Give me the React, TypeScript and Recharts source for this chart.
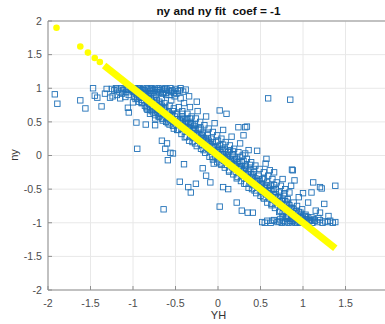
import React from "react";
import { CartesianGrid, ReferenceLine, Scatter, ScatterChart, XAxis, YAxis } from "recharts";

type Pt = [number, number];

const COEF = -1;
const X_TICKS = [-2, -1.5, -1, -0.5, 0, 0.5, 1, 1.5];
const Y_TICKS = [-2, -1.5, -1, -0.5, 0, 0.5, 1, 1.5, 2];

// ny saturates at +1 on the left
const plateau: Pt[] = [
  [-1.25, 0.99], [-1.22, 0.97], [-1.2, 1.0], [-1.18, 0.98], [-1.16, 0.95], [-1.14, 1.0], [-1.12, 0.97],
  [-1.1, 0.99], [-1.08, 0.94], [-1.06, 1.0], [-1.04, 0.97], [-1.02, 0.99], [-1.0, 0.95], [-0.98, 1.0],
  [-0.96, 0.98], [-0.94, 0.96], [-0.92, 1.0], [-0.9, 0.97], [-0.88, 0.99], [-0.86, 0.95], [-0.84, 1.0],
  [-0.82, 0.98], [-0.8, 0.96], [-0.78, 1.0], [-0.76, 0.97], [-0.74, 0.99], [-0.72, 0.94], [-0.7, 1.0],
  [-0.68, 0.97], [-0.66, 0.99], [-0.64, 0.95], [-0.62, 1.0], [-0.6, 0.98], [-0.58, 0.96], [-0.56, 1.0],
  [-0.54, 0.97], [-0.52, 0.93], [-0.5, 0.99], [-0.47, 0.96], [-0.44, 1.0], [-0.41, 0.95], [-0.38, 0.98],
  [-0.97, 0.93], [-0.89, 0.92], [-0.81, 0.93], [-0.73, 0.91], [-0.65, 0.92], [-0.57, 0.9], [-1.13, 0.92],
  [-1.05, 0.9], [-1.07, 0.98], [-0.99, 0.97], [-0.93, 0.99], [-0.87, 0.97], [-0.79, 0.99], [-0.71, 0.97],
  [-0.63, 0.98], [-0.55, 0.95], [-0.49, 0.92], [-0.45, 0.97], [-0.77, 0.93], [-0.69, 0.94], [-0.61, 0.93],
];

const leftScatter: Pt[] = [
  [-1.92, 0.91], [-1.89, 0.77], [-1.62, 0.82], [-1.56, 0.7], [-1.47, 1.0], [-1.45, 0.89], [-1.42, 0.86],
  [-1.37, 0.73], [-1.33, 0.92], [-1.31, 0.99], [-1.27, 0.86], [-1.24, 0.88], [-1.19, 0.9], [-1.15, 0.85],
  [-1.09, 0.87], [-1.06, 0.71], [-1.05, 0.64], [-1.0, 0.79], [-0.84, 0.7], [-0.8, 0.62], [-0.74, 0.55],
  [-0.65, 0.52], [-0.66, 0.22], [-0.6, 0.18],
];

// wider spread around the fit
const band: Pt[] = [
  [-0.99, 0.88], [-0.97, 0.84], [-0.95, 0.9], [-0.93, 0.8], [-0.92, 0.87], [-0.96, 0.49], [-0.85, 0.46], [-0.95, 0.1],
  [-0.9, 0.83], [-0.89, 0.78], [-0.87, 0.86], [-0.86, 0.74], [-0.84, 0.82], [-0.83, 0.68], [-0.82, 0.88], [-0.81, 0.77],
  [-0.8, 0.72], [-0.79, 0.84], [-0.78, 0.66], [-0.77, 0.79], [-0.76, 0.7], [-0.75, 0.88], [-0.74, 0.6], [-0.73, 0.75],
  [-0.72, 0.82], [-0.71, 0.64], [-0.74, 0.45],
  [-0.7, 0.68], [-0.69, 0.58], [-0.68, 0.76], [-0.67, 0.62], [-0.66, 0.85], [-0.65, 0.55], [-0.64, 0.7], [-0.63, 0.78],
  [-0.62, 0.6], [-0.61, 0.9], [-0.62, 0.1],
  [-0.6, 0.57], [-0.59, 0.48], [-0.58, 0.66], [-0.57, 0.74], [-0.56, 0.52], [-0.55, 0.82], [-0.54, 0.6], [-0.53, 0.44],
  [-0.52, 0.7], [-0.51, 0.88], [-0.5, 0.5], [-0.56, 0.04], [-0.53, 0.03], [-0.59, -0.07], [-0.64, -0.8],
  [-0.49, 0.46], [-0.48, 0.62], [-0.47, 0.38], [-0.46, 0.72], [-0.45, 0.52], [-0.44, 0.85], [-0.43, 0.4], [-0.42, 0.66],
  [-0.41, 0.55], [-0.4, 0.78], [-0.45, -0.39], [-0.4, -0.13],
  [-0.39, 0.36], [-0.38, 0.5], [-0.37, 0.28], [-0.36, 0.62], [-0.35, 0.42], [-0.34, 0.88], [-0.33, 0.3], [-0.33, 0.72],
  [-0.32, 0.48], [-0.31, 0.58], [-0.3, 0.38], [-0.35, -0.47], [-0.32, -0.55],
  [-0.29, 0.26], [-0.28, 0.44], [-0.27, 0.18], [-0.26, 0.55], [-0.25, 0.32], [-0.24, 0.66], [-0.23, 0.22], [-0.22, 0.4],
  [-0.21, 0.5], [-0.2, 0.28], [-0.26, -0.42], [-0.25, 0.8],
  [-0.19, 0.16], [-0.18, 0.34], [-0.17, 0.08], [-0.16, 0.45], [-0.15, 0.22], [-0.14, 0.58], [-0.13, 0.12], [-0.12, 0.3],
  [-0.11, 0.4], [-0.1, 0.18], [-0.18, -0.19], [-0.14, -0.3], [-0.09, -0.4],
  [-0.09, 0.06], [-0.08, 0.25], [-0.07, -0.02], [-0.06, 0.35], [-0.05, 0.12], [-0.04, 0.48], [-0.03, 0.0], [-0.02, 0.2],
  [-0.01, 0.3], [0.0, 0.08], [-0.05, -0.12],
  [0.01, -0.04], [0.02, 0.15], [0.03, -0.12], [0.04, 0.25], [0.05, 0.02], [0.06, 0.38], [0.07, -0.08], [0.08, 0.1],
  [0.09, 0.2], [0.1, -0.02], [0.02, 0.67], [0.1, 0.62], [0.02, -0.76], [0.06, -0.47],
  [0.11, -0.14], [0.12, 0.05], [0.13, -0.22], [0.14, 0.15], [0.15, -0.08], [0.16, 0.28], [0.17, -0.18], [0.18, 0.0],
  [0.19, 0.1], [0.2, -0.12], [0.12, -0.5],
  [0.21, -0.24], [0.22, -0.05], [0.23, -0.32], [0.24, 0.05], [0.25, -0.18], [0.26, 0.18], [0.27, -0.28], [0.28, -0.1],
  [0.29, 0.0], [0.3, -0.22], [0.24, 0.42], [0.22, -0.7], [0.28, -0.82],
  [0.31, -0.34], [0.32, -0.15], [0.33, -0.42], [0.34, -0.05], [0.35, -0.28], [0.36, 0.08], [0.37, -0.38], [0.38, -0.2],
  [0.39, -0.1], [0.4, -0.32], [0.32, 0.42], [0.34, 0.43], [0.3, 0.3], [0.32, 0.03], [0.35, -0.85],
  [0.41, -0.44], [0.42, -0.25], [0.43, -0.52], [0.44, -0.15], [0.45, -0.38], [0.46, 0.07], [0.47, -0.48], [0.48, -0.3],
  [0.49, -0.2], [0.5, -0.42], [0.41, -0.85],
  [0.51, -0.54], [0.52, -0.35], [0.53, -0.62], [0.54, -0.25], [0.55, -0.48], [0.56, -0.12], [0.57, -0.58], [0.58, -0.4],
  [0.59, -0.3], [0.6, -0.52], [0.59, 0.85], [0.57, -0.05],
  [0.61, -0.64], [0.62, -0.45], [0.63, -0.72], [0.64, -0.35], [0.65, -0.58], [0.66, -0.25], [0.67, -0.68], [0.68, -0.5],
  [0.69, -0.4], [0.7, -0.62], [0.61, -0.22],
  [0.71, -0.74], [0.72, -0.55], [0.73, -0.82], [0.74, -0.45], [0.75, -0.68], [0.76, -0.35], [0.77, -0.78], [0.78, -0.6],
  [0.79, -0.5], [0.8, -0.72],
  [0.81, -0.84], [0.82, -0.65], [0.83, -0.9], [0.84, -0.55], [0.85, -0.78], [0.86, -0.45], [0.87, -0.21], [0.88, -0.22],
  [0.85, 0.83], [0.9, -0.37], [0.89, -0.7],
  [0.91, -0.9], [0.93, -0.75], [0.95, -0.62], [0.97, -0.85], [1.0, -0.56], [0.99, -0.8],
  [1.03, -0.88], [1.06, -0.7], [1.1, -0.55], [1.12, -0.4], [1.15, -0.82], [1.2, -0.47], [1.2, -0.85], [1.22, -0.49],
  [1.25, -0.72], [1.38, -0.45], [1.3, -0.9],
];

// tight core just above the fit
const core: Pt[] = [
  [-1.02, 0.98], [-0.98, 0.95], [-0.95, 0.97], [-0.93, 0.9], [-0.91, 0.94], [-0.88, 0.91], [-0.86, 0.88], [-0.85, 0.93],
  [-0.83, 0.8], [-0.82, 0.84], [-0.79, 0.86], [-0.78, 0.8], [-0.77, 0.74], [-0.75, 0.82], [-0.73, 0.7], [-0.72, 0.78],
  [-0.71, 0.73], [-0.69, 0.8], [-0.68, 0.66], [-0.67, 0.71], [-0.66, 0.74], [-0.64, 0.63], [-0.63, 0.68], [-0.62, 0.72],
  [-0.6, 0.64], [-0.59, 0.6], [-0.58, 0.55], [-0.57, 0.62], [-0.55, 0.6], [-0.54, 0.53], [-0.53, 0.66], [-0.52, 0.5],
  [-0.51, 0.58], [-0.5, 0.62], [-0.48, 0.5], [-0.47, 0.54], [-0.46, 0.45], [-0.44, 0.52], [-0.43, 0.48], [-0.42, 0.58],
  [-0.41, 0.44], [-0.39, 0.46], [-0.38, 0.4], [-0.37, 0.52], [-0.36, 0.36], [-0.35, 0.48], [-0.34, 0.4], [-0.33, 0.55],
  [-0.31, 0.34], [-0.3, 0.46], [-0.29, 0.38], [-0.28, 0.3], [-0.27, 0.41], [-0.26, 0.33], [-0.24, 0.28], [-0.23, 0.38],
  [-0.22, 0.3], [-0.21, 0.24], [-0.19, 0.3], [-0.18, 0.22], [-0.17, 0.26], [-0.16, 0.15], [-0.14, 0.24], [-0.13, 0.2],
  [-0.12, 0.1], [-0.11, 0.22], [-0.09, 0.16], [-0.08, 0.08], [-0.07, 0.14], [-0.06, 0.2], [-0.04, 0.06], [-0.03, 0.12],
  [-0.02, 0.05], [0.0, 0.1], [0.01, 0.02], [0.03, 0.05], [0.04, -0.02], [0.05, 0.1], [0.07, 0.0], [0.08, -0.04],
  [0.09, 0.06], [0.11, -0.06], [0.12, 0.0], [0.13, -0.1], [0.15, -0.05], [0.16, -0.12], [0.17, 0.02], [0.19, -0.14],
  [0.2, -0.06], [0.21, -0.16], [0.23, -0.1], [0.24, -0.2], [0.25, -0.08], [0.27, -0.2], [0.28, -0.16], [0.29, -0.26],
  [0.31, -0.2], [0.32, -0.28], [0.33, -0.18], [0.35, -0.3], [0.36, -0.24], [0.37, -0.34], [0.39, -0.28], [0.4, -0.36],
  [0.41, -0.3], [0.43, -0.4], [0.44, -0.34], [0.45, -0.44], [0.47, -0.38], [0.48, -0.46], [0.49, -0.36], [0.51, -0.48],
  [0.52, -0.42], [0.53, -0.52], [0.55, -0.46], [0.56, -0.55], [0.57, -0.44], [0.59, -0.56], [0.6, -0.48], [0.61, -0.58],
  [0.63, -0.52], [0.64, -0.62], [0.65, -0.5], [0.67, -0.62], [0.68, -0.58], [0.69, -0.68], [0.71, -0.62], [0.72, -0.7],
  [0.73, -0.6], [0.75, -0.72], [0.76, -0.66], [0.77, -0.74], [0.79, -0.68], [0.8, -0.78], [0.81, -0.7], [0.83, -0.8],
  [0.84, -0.74], [0.85, -0.84], [0.87, -0.78], [0.88, -0.86], [0.89, -0.8], [0.91, -0.86], [0.92, -0.82], [0.94, -0.9],
  [0.95, -0.84], [0.97, -0.92], [0.98, -0.88], [1.0, -0.94], [1.02, -0.9], [1.04, -0.95], [1.06, -0.92], [1.08, -0.97],
  [-0.42, 0.62], [-0.27, 0.47], [-0.12, 0.34], [0.06, 0.16], [0.18, 0.06], [0.3, -0.08], [0.42, -0.2], [0.54, -0.34],
  [0.66, -0.44], [0.78, -0.56], [-0.36, 0.55], [-0.2, 0.4], [0.0, 0.22], [0.14, 0.08], [0.26, -0.02], [0.38, -0.14],
];

// thin strip just below the fit
const below: Pt[] = [
  [-0.95, 0.85], [-0.9, 0.78], [-0.84, 0.72], [-0.8, 0.68], [-0.76, 0.64], [-0.7, 0.58], [-0.66, 0.55], [-0.61, 0.5],
  [-0.57, 0.46], [-0.52, 0.4], [-0.48, 0.38], [-0.43, 0.32], [-0.39, 0.27], [-0.34, 0.22], [-0.3, 0.2], [-0.25, 0.14],
  [-0.2, 0.1], [-0.15, 0.04], [-0.1, -0.02], [-0.06, -0.06], [-0.01, -0.1], [0.04, -0.14], [0.08, -0.18], [0.13, -0.24],
  [0.18, -0.28], [0.22, -0.34], [0.27, -0.38], [0.31, -0.42], [0.36, -0.48], [0.4, -0.5], [0.45, -0.56], [0.5, -0.6],
  [0.54, -0.64], [0.58, -0.7], [0.63, -0.74], [0.67, -0.78], [0.72, -0.84], [0.76, -0.86], [0.81, -0.92], [0.86, -0.94],
];

// ny saturates at -1 on the right
const floor: Pt[] = [
  [0.52, -0.99], [0.55, -1.0], [0.58, -0.97], [0.62, -1.0], [0.64, -0.97], [0.66, -0.96], [0.7, -0.99], [0.73, -0.95],
  [0.75, -1.0], [0.77, -0.97], [0.79, -0.99], [0.81, -0.94], [0.83, -1.0], [0.85, -0.97], [0.87, -0.99], [0.89, -0.95],
  [0.91, -1.0], [0.93, -0.98], [0.95, -0.96], [0.97, -1.0], [0.99, -0.97], [1.01, -0.99], [1.03, -0.95], [1.05, -1.0],
  [1.07, -0.98], [1.09, -0.96], [1.11, -1.0], [1.14, -0.97], [1.17, -0.99], [1.2, -0.96], [1.23, -1.0], [1.26, -0.98],
  [1.29, -0.99], [1.32, -0.97], [1.35, -1.0], [1.38, -0.99], [0.76, -0.92], [0.8, -0.9], [0.86, -0.92], [0.92, -0.91],
  [0.98, -0.92], [1.04, -0.91], [1.1, -0.92], [1.18, -0.93], [0.72, -0.98], [0.88, -0.97], [0.96, -0.99], [1.13, -0.95],
];

// YH positions of the fitted points
const fitDotYH = [-1.9, -1.62, -1.53, -1.45, -1.39];
const fitLineYH = [-1.34, 1.38];

const toRows = (pts: Pt[]) => pts.map(([yh, ny]) => ({ yh, ny }));
const samples = toRows([...leftScatter, ...plateau, ...band, ...core, ...below, ...floor]);
const fitDots = fitDotYH.map((yh) => ({ yh, ny: COEF * yh }));
const fitLine = fitLineYH.map((yh) => ({ yh, ny: COEF * yh }));

const FONT = '"Liberation Sans", Arial, sans-serif';
const BLUE = "#2272b8";
const YELLOW = "#ffff00";
const AXIS = "#8f8f8f";

const Square = (props: any) => (
  <rect x={props.cx - 2.7} y={props.cy - 2.7} width={5.4} height={5.4} fill="none" stroke={BLUE} strokeWidth={0.9} />
);

const Dot = (props: any) => <circle cx={props.cx} cy={props.cy} r={3.3} fill={YELLOW} />;

const tickStyle = { fontSize: 10.6, fill: "#4d4d4d", fontFamily: FONT };

export default function App() {
  return (
    <div style={{ position: "absolute", left: 0, top: 0, width: 385, height: 324, overflow: "hidden", background: "#fff" }}>
      <ScatterChart width={400} height={324} margin={{ top: 21, right: 12, bottom: 0, left: 0 }}>
        <CartesianGrid stroke="#e8e8e8" strokeWidth={1} />
        <XAxis
          type="number"
          dataKey="yh"
          domain={[-2, 2]}
          ticks={X_TICKS}
          height={34}
          stroke={AXIS}
          tickSize={-4}
          tickMargin={13}
          tick={tickStyle}
          allowDataOverflow
        />
        <YAxis
          type="number"
          dataKey="ny"
          domain={[-2, 2]}
          ticks={Y_TICKS}
          width={48}
          stroke={AXIS}
          tickSize={-4}
          tickMargin={10}
          tick={tickStyle}
          allowDataOverflow
        />
        <ReferenceLine y={2} stroke={AXIS} />
        <Scatter data={samples} shape={<Square />} isAnimationActive={false} />
        <Scatter
          data={fitLine}
          line={{ stroke: YELLOW, strokeWidth: 7 }}
          shape={() => <g />}
          isAnimationActive={false}
        />
        <Scatter data={fitDots} shape={<Dot />} isAnimationActive={false} />
      </ScatterChart>
      <div
        style={{
          position: "absolute",
          left: 0,
          width: 437,
          top: 4,
          textAlign: "center",
          fontFamily: FONT,
          fontWeight: "bold",
          fontSize: 11.8,
          whiteSpace: "pre",
          color: "#111",
        }}
      >
        {"ny and ny fit  coef = -1"}
      </div>
      <div
        style={{
          position: "absolute",
          left: 0,
          width: 437,
          top: 309,
          textAlign: "center",
          fontFamily: FONT,
          fontSize: 11,
          color: "#333",
        }}
      >
        YH
      </div>
      <div
        style={{
          position: "absolute",
          left: 14,
          top: 155,
          transform: "translate(-50%, -50%) rotate(-90deg)",
          fontFamily: FONT,
          fontSize: 11,
          color: "#333",
        }}
      >
        ny
      </div>
    </div>
  );
}
